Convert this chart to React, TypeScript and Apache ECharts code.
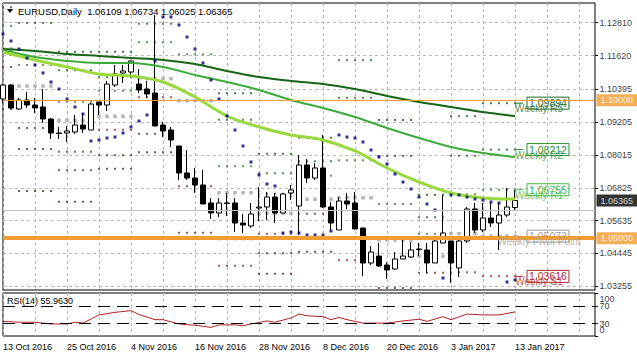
import React, { useEffect, useRef } from "react";
import * as echarts from "echarts";

const FONT = "'Liberation Sans', Arial, sans-serif";

const dates = ["13 Oct 2016","14 Oct 2016","17 Oct 2016","18 Oct 2016","19 Oct 2016","20 Oct 2016","21 Oct 2016","24 Oct 2016","25 Oct 2016","26 Oct 2016","27 Oct 2016","28 Oct 2016","31 Oct 2016","1 Nov 2016","2 Nov 2016","3 Nov 2016","4 Nov 2016","7 Nov 2016","8 Nov 2016","9 Nov 2016","10 Nov 2016","11 Nov 2016","14 Nov 2016","15 Nov 2016","16 Nov 2016","17 Nov 2016","18 Nov 2016","21 Nov 2016","22 Nov 2016","23 Nov 2016","24 Nov 2016","25 Nov 2016","28 Nov 2016","29 Nov 2016","30 Nov 2016","1 Dec 2016","2 Dec 2016","5 Dec 2016","6 Dec 2016","7 Dec 2016","8 Dec 2016","9 Dec 2016","12 Dec 2016","13 Dec 2016","14 Dec 2016","15 Dec 2016","16 Dec 2016","19 Dec 2016","20 Dec 2016","21 Dec 2016","22 Dec 2016","23 Dec 2016","27 Dec 2016","28 Dec 2016","29 Dec 2016","30 Dec 2016","3 Jan 2017","4 Jan 2017","5 Jan 2017","6 Jan 2017","9 Jan 2017","10 Jan 2017","11 Jan 2017","12 Jan 2017","13 Jan 2017"];

const opens = [1.10045,1.10552,1.09682,1.10008,1.09827,1.09755,1.09320,1.08812,1.08812,1.08848,1.09102,1.08921,1.09936,1.09827,1.10552,1.10987,1.11023,1.10588,1.10407,1.10262,1.09102,1.08921,1.08341,1.07363,1.07181,1.06928,1.06276,1.05913,1.06276,1.06276,1.05550,1.05442,1.06094,1.06130,1.06493,1.05913,1.06638,1.06167,1.07653,1.07181,1.07544,1.06130,1.05297,1.06348,1.06276,1.05369,1.04101,1.04354,1.04028,1.03883,1.04246,1.04318,1.04608,1.04572,1.04101,1.04825,1.04898,1.03920,1.04898,1.06058,1.05297,1.05732,1.05550,1.05840,1.06109];
const closes = [1.10552,1.09719,1.10008,1.09827,1.09719,1.09320,1.08812,1.08794,1.08885,1.09102,1.08957,1.09863,1.09827,1.10588,1.10951,1.11060,1.11422,1.10371,1.10226,1.09066,1.08885,1.08559,1.07363,1.07181,1.06928,1.06239,1.05913,1.06276,1.06258,1.05550,1.05478,1.05877,1.06130,1.06493,1.05913,1.06602,1.06747,1.07653,1.07181,1.07544,1.06130,1.05550,1.06348,1.06239,1.05333,1.04101,1.04499,1.03992,1.03847,1.04246,1.04354,1.04572,1.04590,1.04101,1.04898,1.05188,1.04101,1.04898,1.06058,1.05297,1.05732,1.05550,1.05840,1.06130,1.06365];
const lows = [1.09900,1.09682,1.09646,1.09719,1.09537,1.09175,1.08595,1.08595,1.08486,1.08776,1.08812,1.08921,1.09465,1.09610,1.10480,1.10625,1.10806,1.10262,1.10081,1.09066,1.08667,1.08305,1.07109,1.07109,1.06638,1.06239,1.05695,1.05768,1.05804,1.05224,1.05188,1.05369,1.05623,1.05659,1.05550,1.05913,1.06384,1.05115,1.07000,1.07109,1.06094,1.05297,1.05297,1.06058,1.05333,1.03629,1.04028,1.03956,1.03521,1.03847,1.04246,1.04282,1.04354,1.03738,1.04101,1.04825,1.03376,1.03593,1.04825,1.05188,1.05224,1.05405,1.04572,1.05768,1.06025];
const highs = [1.10588,1.10588,1.10081,1.10298,1.10081,1.10407,1.09356,1.09030,1.09066,1.09465,1.09537,1.09900,1.09936,1.10697,1.11277,1.11277,1.11458,1.11132,1.10697,1.13090,1.09211,1.09030,1.08341,1.08196,1.07544,1.07471,1.06457,1.06457,1.06638,1.06457,1.05877,1.06276,1.06855,1.06674,1.06638,1.06638,1.06928,1.08015,1.07870,1.07725,1.08740,1.06312,1.06493,1.06638,1.06674,1.05369,1.04717,1.04825,1.04137,1.04499,1.04934,1.04862,1.04825,1.04825,1.04934,1.06565,1.04898,1.04934,1.06130,1.06276,1.06276,1.06276,1.06276,1.06819,1.06734];

const sar = [1.12401,1.12147,1.11857,1.11531,1.11277,1.10987,1.10661,1.10407,1.10045,1.09755,1.09501,1.08523,1.08559,1.08631,1.08667,1.08812,1.09030,1.09247,1.09465,1.11422,1.13017,1.13017,1.12727,1.12292,1.11857,1.11350,1.10733,1.10045,1.09429,1.08921,1.08341,1.07761,1.07290,1.06964,1.06891,1.05188,1.05224,1.05188,1.05115,1.05115,1.05115,1.05260,1.08740,1.08667,1.08631,1.08486,1.08196,1.07943,1.07689,1.07326,1.07036,1.06783,1.06493,1.06239,1.06022,1.03557,1.06565,1.06565,1.06493,1.06420,1.06384,1.06312,1.06276,1.03412,1.03484];

// moving averages read every 4 bars
const maIdx = [0,4,8,12,16,20,24,28,32,36,40,44,48,52,56,60,64];
const maSlow = [1.11857,1.11785,1.11676,1.11603,1.11531,1.11458,1.11313,1.11060,1.10842,1.10697,1.10588,1.10407,1.10154,1.09936,1.09755,1.09574,1.09429];
const maMid = [1.11821,1.11567,1.11422,1.11350,1.11350,1.11205,1.10915,1.10661,1.10371,1.10008,1.09719,1.09392,1.08994,1.08631,1.08305,1.08088,1.07943];
const maFast = [1.11748,1.11458,1.11205,1.10951,1.10878,1.10661,1.10117,1.09429,1.09030,1.08740,1.08559,1.08160,1.07544,1.07036,1.06638,1.06457,1.06420];

// weekly pivots
const weekStart = [0,2,7,12,17,22,27,32,37,42,47,52,56,60];
const weekEnd = [1,6,11,16,21,26,31,36,41,46,51,55,59,64];
const pivR3 = [1.14190,1.13561,1.11759,1.11759,1.14093,1.16446,1.10251,1.08062,1.08642,1.11447,1.09284,1.06576,1.09418,1.09894];
const pivR2 = [1.13370,1.12799,1.11085,1.10831,1.12774,1.14767,1.09295,1.07352,1.07787,1.10092,1.07979,1.05757,1.07990,1.08212];
const pivR1 = [1.12690,1.11277,1.09947,1.10346,1.12100,1.11665,1.07605,1.06612,1.07265,1.07823,1.06239,1.05162,1.06591,1.06755];
const pivPP = [1.11860,1.10516,1.09273,1.09418,1.10781,1.09983,1.06649,1.05902,1.06410,1.06467,1.04934,1.04344,1.05162,1.05073];
const pivS1 = [1.11200,1.08994,1.08135,1.08932,1.10106,1.06881,1.04959,1.05162,1.05888,1.04198,1.03195,1.03749,1.03764,1.03616];
const pivS2 = [1.10370,1.08233,1.07461,1.08004,1.08787,1.05199,1.04003,1.04452,1.05032,1.02843,1.01890,1.02930,1.02335,1.01934];
const pivS3 = [1.09680,1.06711,1.06323,1.07518,1.08113,1.02107,1.02314,1.03713,1.04510,1.00570,1.00150,1.02339,1.00933,1.00477];

const rsiIdx = [0,2,4,6,8,9,10,12,14,16,17,19,20,22,24,26,27,29,30,31,33,34,36,37,38,40,41,42,43,45,48,50,52,53,55,56,58,60,62,64];
const rsiVal = [34,32,32,28,28,32,30,49,55,59,50,38,38,28,25,20,26,26,24,28,35,32,42,51,47,45,38,43,38,30,30,35,39,34,45,38,51,49,49,55.963];

const priceTicks = [1.03255,1.04445,1.05635,1.06825,1.08015,1.09205,1.10395,1.11620,1.12810];
const rsiTicks = [0,30,70,100];
const rsiTickText = ["0","30","70","100"];
const rsiTickTextPos = [14,28,70,85];

const lastLabels = ["Weekly R3","Weekly R2","Weekly R1","Weekly Pivot Point","Weekly S1"];
const lastValues = [1.09894,1.08212,1.06755,1.05073,1.03616];
const lastColors = ["#1d6a1d","#2f8f2f","#3fb83f","#9c9c9c","#b02a2a"];

const markerValues = [1.06365,1.1,1.05];
const markerBg = ["#000","#f29b30","#f29b30"];

const Y_MIN = 1.03122;
const Y_MAX = 1.13524;
const EXTRA = 10;

function buildOption() {
  const N = dates.length;
  const LAST = N + EXTRA - 1;
  const cats = dates.concat(Array.from({ length: EXTRA }, (_, k) => "_" + k));
  const gridLine = { color: "#b8b8b8", type: [3, 3], width: 1 };

  const sparse = (idx: number[], vals: number[]) => {
    const arr: (number | null)[] = Array(N).fill(null);
    idx.forEach((ix, k) => (arr[ix] = vals[k]));
    return arr;
  };
  const pivData = (lv: number[]) => {
    const d: number[][] = [];
    weekStart.forEach((s, w) => {
      for (let i = s; i <= weekEnd[w]; i++) d.push([i, lv[w]]);
    });
    return d;
  };
  const pivSeries = (lv: number[], color: string, size: number) => ({
    type: "scatter",
    xAxisIndex: 0,
    yAxisIndex: 0,
    data: pivData(lv),
    symbol: "rect",
    symbolSize: size,
    itemStyle: { color },
    silent: true,
    z: 2,
  });
  const maLine = (vals: number[], color: string, width: number) => ({
    type: "line",
    xAxisIndex: 0,
    yAxisIndex: 0,
    data: sparse(maIdx, vals),
    connectNulls: true,
    smooth: 0.35,
    symbol: "none",
    lineStyle: { color, width },
    silent: true,
    z: 4,
  });
  const textSeries = (xi: number, yi: number, data: any[], label: any) => ({
    type: "scatter",
    xAxisIndex: xi,
    yAxisIndex: yi,
    data,
    symbolSize: 1,
    itemStyle: { color: "rgba(0,0,0,0)" },
    silent: true,
    clip: false,
    z: 8,
    label: { show: true, fontFamily: FONT, ...label },
  });

  const labelSeries: any[] = [];
  lastValues.forEach((v, k) => {
    const c = lastColors[k];
    labelSeries.push({
      type: "line",
      xAxisIndex: 0,
      yAxisIndex: 0,
      data: [[64, v], [65, v]],
      symbol: "none",
      lineStyle: { color: c, width: 1 },
      silent: true,
      z: 6,
      endLabel: {
        show: true,
        formatter: () => v.toFixed(5),
        distance: 4,
        color: c,
        fontSize: 10.5,
        fontFamily: FONT,
        borderColor: c,
        borderWidth: 1,
        padding: [1, 2, 0, 2],
      },
    });
    labelSeries.push(
      textSeries(0, 0, [[67, v]], {
        position: "bottom",
        distance: 0,
        formatter: lastLabels[k],
        color: c,
        fontSize: 10,
      })
    );
  });

  const hLine = (value: number, color: string, width: number) => ({
    yAxis: value,
    lineStyle: { color, width, type: "solid" },
    label: { show: false },
  });

  return {
    animation: false,
    backgroundColor: "#fff",
    textStyle: { fontFamily: FONT },
    grid: [
      { left: 3, right: 42, top: 3, height: 287, show: true, borderColor: "#000", borderWidth: 1, backgroundColor: "#fff" },
      { left: 3, right: 42, top: 293, height: 43, show: true, borderColor: "#000", borderWidth: 1, backgroundColor: "#fff" },
    ],
    xAxis: [
      {
        type: "category",
        gridIndex: 0,
        data: cats,
        boundaryGap: false,
        axisLine: { show: false },
        axisTick: { show: false },
        axisLabel: { show: false },
        splitLine: { show: true, interval: (i: number) => i % 4 === 0, lineStyle: gridLine },
      },
      {
        type: "category",
        gridIndex: 1,
        data: cats,
        boundaryGap: false,
        axisLine: { show: false },
        axisTick: { show: false },
        axisLabel: {
          show: true,
          interval: (i: number) => i % 8 === 0 && i < N,
          align: "left",
          fontSize: 9,
          color: "#000",
          margin: 6,
          fontFamily: FONT,
        },
        splitLine: { show: true, interval: (i: number) => i % 4 === 0, lineStyle: gridLine },
      },
    ],
    yAxis: [
      {
        type: "value",
        gridIndex: 0,
        position: "right",
        min: Y_MIN,
        max: Y_MAX,
        axisLine: { show: false },
        axisTick: { show: true, customValues: priceTicks, length: 3, lineStyle: { color: "#000" } },
        axisLabel: { show: false },
        splitLine: { show: true, lineStyle: gridLine },
      },
      {
        type: "value",
        gridIndex: 1,
        position: "right",
        min: 0,
        max: 100,
        axisLine: { show: false },
        axisTick: { show: true, customValues: rsiTicks, length: 3, lineStyle: { color: "#000" } },
        axisLabel: { show: false },
        splitLine: { show: false },
      },
    ],
    graphic: [
      { type: "polygon", shape: { points: [[7, 9], [13, 9], [10, 13]] }, style: { fill: "#000" }, z: 100 },
      {
        type: "text",
        x: 18,
        y: 11,
        z: 100,
        style: { text: "EURUSD,Daily  1.06109 1.06734 1.06025 1.06365", fill: "#000", font: `9.5px ${FONT}`, verticalAlign: "middle" },
      },
      {
        type: "text",
        x: 7,
        y: 301,
        z: 100,
        style: { text: "RSI(14) 55.9630", fill: "#000", font: `9px ${FONT}`, verticalAlign: "middle" },
      },
    ],
    series: [
      pivSeries(pivR3, "#1e5a1e", 2),
      pivSeries(pivR2, "#2a6e2a", 2),
      pivSeries(pivR1, "#3a8a3a", 2),
      pivSeries(pivS1, "#9a3030", 2),
      pivSeries(pivS2, "#7a2e2e", 2),
      pivSeries(pivS3, "#5e2a2a", 2),
      pivSeries(pivPP, "#a4a4a4", 3.5),
      {
        type: "candlestick",
        xAxisIndex: 0,
        yAxisIndex: 0,
        data: dates.map((_, i) => [opens[i], closes[i], lows[i], highs[i]]),
        barWidth: 5,
        itemStyle: { color: "#fff", color0: "#000", borderColor: "#000", borderColor0: "#000", borderWidth: 1 },
        silent: true,
        z: 3,
        markLine: {
          silent: true,
          symbol: ["none", "none"],
          z: 7,
          data: [
            hLine(1.06365, "#c0c0c0", 1),
            hLine(1.1, "#f29b30", 1),
            hLine(1.05, "#f29b30", 4),
          ],
        },
      },
      maLine(maSlow, "#176617", 2),
      maLine(maMid, "#3cab3c", 2),
      maLine(maFast, "#9ad93c", 3),
      {
        type: "scatter",
        xAxisIndex: 0,
        yAxisIndex: 0,
        data: sar.map((v, i) => [i, v]),
        symbol: "rect",
        symbolSize: 3,
        itemStyle: { color: "#00007a" },
        silent: true,
        z: 5,
      },
      ...labelSeries,
      // price axis tick labels
      textSeries(
        0,
        0,
        priceTicks.map((v) => [LAST, v]),
        { position: "right", distance: 4, formatter: (p: any) => p.value[1].toFixed(5), color: "#000", fontSize: 9 }
      ),
      // highlighted price markers on the axis
      textSeries(
        0,
        0,
        markerValues.map((v, k) => ({ value: [LAST, v], label: { backgroundColor: markerBg[k] } })),
        { position: "right", distance: 1, formatter: (p: any) => p.value[1].toFixed(5), color: "#fff", fontSize: 9, padding: [2, 5, 1, 4] }
      ),
      // RSI axis labels
      textSeries(
        1,
        1,
        rsiTickText.map((t, k) => ({ value: [LAST, rsiTickTextPos[k]], name: t })),
        { position: "right", distance: 4, formatter: (p: any) => p.name, color: "#000", fontSize: 9 }
      ),
      {
        type: "line",
        xAxisIndex: 1,
        yAxisIndex: 1,
        data: sparse(rsiIdx, rsiVal),
        connectNulls: true,
        symbol: "none",
        lineStyle: { color: "#b22222", width: 1 },
        silent: true,
        z: 4,
        markLine: {
          silent: true,
          symbol: ["none", "none"],
          label: { show: false },
          lineStyle: { color: "#000", type: [12, 7], width: 1 },
          data: [{ yAxis: rsiTicks[2] }, { yAxis: rsiTicks[1] }],
        },
      },
    ],
  };
}

export default function App() {
  const ref = useRef<HTMLDivElement>(null);
  useEffect(() => {
    if (!ref.current) return;
    const chart = echarts.init(ref.current, null, { renderer: "svg" });
    chart.setOption(buildOption() as any);
    return () => chart.dispose();
  }, []);
  return (
    <div
      ref={ref}
      style={{ position: "fixed", left: 0, top: 0, width: 637, height: 358, background: "#fff" }}
    />
  );
}
